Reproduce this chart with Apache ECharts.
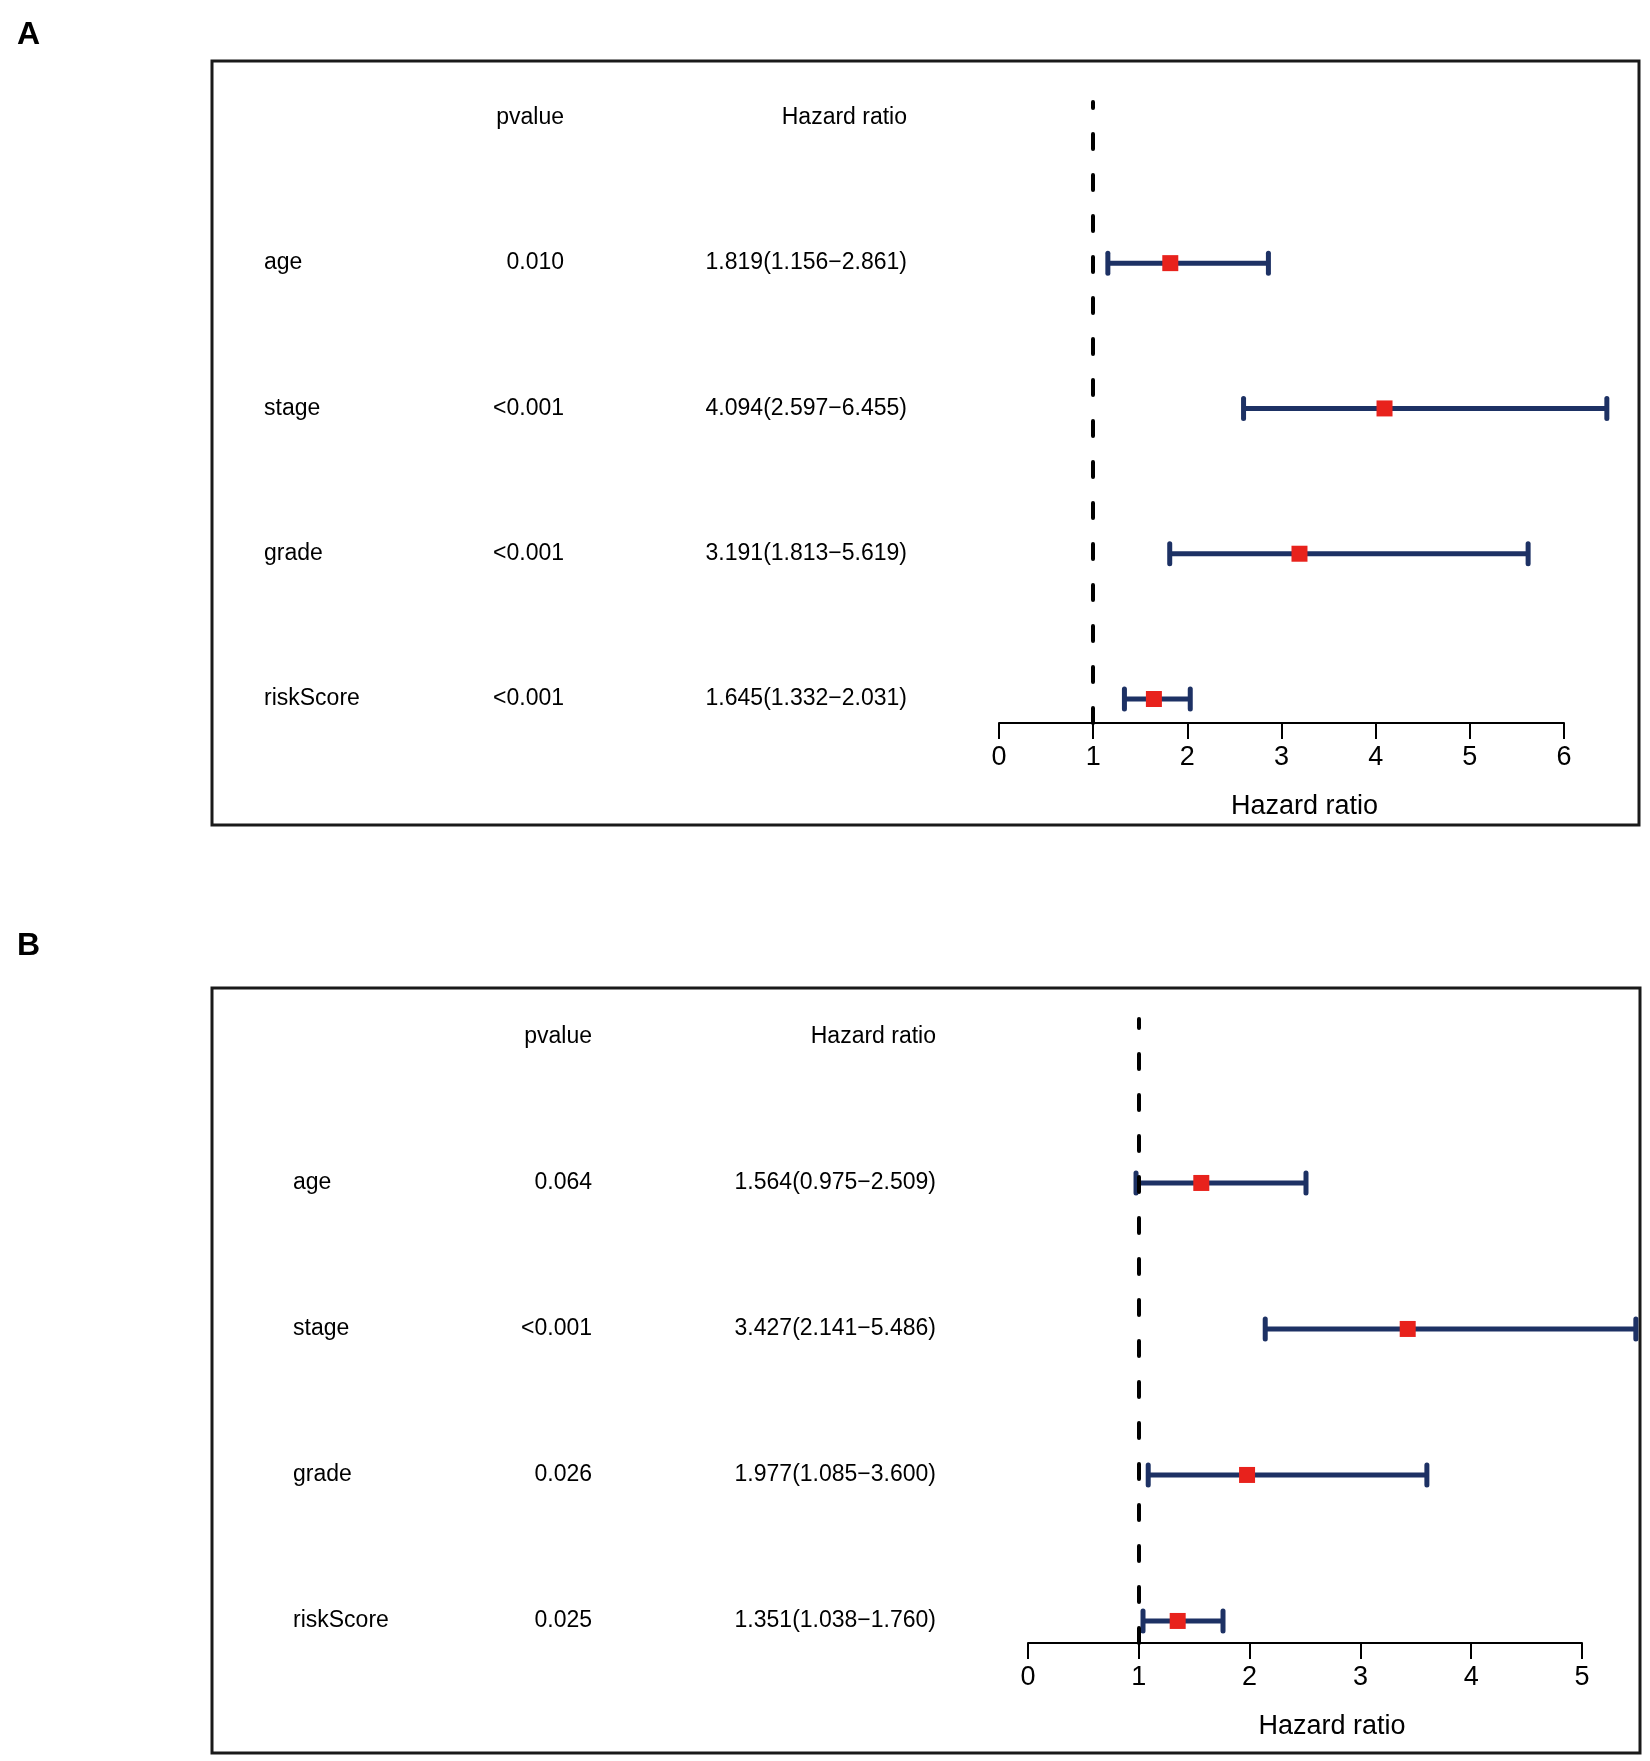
<!DOCTYPE html>
<html>
<head>
<meta charset="utf-8">
<script src="https://cdn.jsdelivr.net/npm/echarts@6/dist/echarts.min.js"></script>
<style>
    html, body { margin: 0; padding: 0; background: #fff; }
    #chart { width: 1650px; height: 1761px; }
</style>
</head>
<body>
<div id="chart"></div>
<script>
// rows, top to bottom
const factors = ['age', 'stage', 'grade', 'riskScore'];

// panel A
const pvalueA = ['0.010', '<0.001', '<0.001', '<0.001'];
const hrA = [1.819, 4.094, 3.191, 1.645];
const lowA = [1.156, 2.597, 1.813, 1.332];
const highA = [2.861, 6.455, 5.619, 2.031];

// panel B
const pvalueB = ['0.064', '<0.001', '0.026', '0.025'];
const hrB = [1.564, 3.427, 1.977, 1.351];
const lowB = [0.975, 2.141, 1.085, 1.038];
const highB = [2.509, 5.486, 3.600, 1.760];

const font = "'Liberation Sans', Arial, sans-serif";
const navy = '#1d3164';
const red = '#e8221c';
const n = factors.length;

let dom = document.getElementById('chart');
let chart = echarts.init(dom);

// y value of a row: top row gets the biggest value, header sits above it
function rowY(i) { return n - 1 - i; }

function columnLabels(values, header) {
    let labels = [];
    values.forEach(function (v, i) { labels[rowY(i)] = v; });
    labels[n] = header;
    return labels;
}

function hrText(hr, low, high) {
    return hr.map(function (h, i) {
        return h.toFixed(3) + '(' + low[i].toFixed(3) + '\u2212' + high[i].toFixed(3) + ')';
    });
}

function textAxis(g, yMin, yMax, offset, align, labels, drop) {
    return {
        type: 'value',
        gridIndex: g,
        min: yMin,
        max: yMax,
        position: 'left',
        offset: offset,
        axisLine: { show: false, onZero: false },
        axisTick: { show: false },
        splitLine: { show: false },
        axisLabel: {
            customValues: [0, 1, 2, 3, 4],
            margin: 0,
            align: align,
            padding: [drop, 0, 0, 0],
            fontSize: 23,
            color: '#000',
            fontFamily: font,
            formatter: function (v) { return labels[Math.round(v)] || ''; }
        }
    };
}

function panel(g, p) {
    let xAxis = {
        type: 'value',
        gridIndex: g,
        min: 0,
        max: p.xMax,
        interval: 1,
        name: 'Hazard ratio',
        nameLocation: 'middle',
        nameGap: 70,
        nameTextStyle: { fontSize: 27, color: '#000', fontFamily: font, padding: [0, 0, 0, p.nameShift] },
        axisLine: { onZero: false, lineStyle: { color: '#000', width: 2 } },
        axisTick: { length: 16, lineStyle: { color: '#000', width: 2 } },
        axisLabel: { fontSize: 27, color: '#000', fontFamily: font, margin: 21 },
        splitLine: { show: false }
    };
    let yAxes = [
        { type: 'value', gridIndex: g, min: p.yMin, max: p.yMax, show: false },
        textAxis(g, p.yMin, p.yMax, p.nameOffset, 'left', columnLabels(factors, ''), 2),
        textAxis(g, p.yMin, p.yMax, p.pOffset, 'right', columnLabels(p.pvalue, 'pvalue'), 6),
        textAxis(g, p.yMin, p.yMax, p.hrOffset, 'right', columnLabels(hrText(p.hr, p.low, p.high), 'Hazard ratio'), 5)
    ];
    let ci = p.hr.map(function (h, i) { return [p.low[i], p.high[i], rowY(i)]; });
    let pts = p.hr.map(function (h, i) { return [h, rowY(i)]; });
    let series = [
        {
            type: 'custom',
            xAxisIndex: g,
            yAxisIndex: g * 4,
            clip: false,
            z: 3,
            encode: { x: [0, 1], y: 2 },
            data: ci,
            renderItem: function (params, api) {
                let y = api.value(2);
                let a = api.coord([api.value(0), y]);
                let b = api.coord([api.value(1), y]);
                let cap = 10;
                let capStyle = { stroke: navy, lineWidth: 5, lineCap: 'round' };
                return {
                    type: 'group',
                    children: [
                        { type: 'line', shape: { x1: a[0], y1: a[1], x2: b[0], y2: b[1] }, style: { stroke: navy, lineWidth: 5 } },
                        { type: 'line', shape: { x1: a[0], y1: a[1] - cap, x2: a[0], y2: a[1] + cap }, style: capStyle },
                        { type: 'line', shape: { x1: b[0], y1: b[1] - cap, x2: b[0], y2: b[1] + cap }, style: capStyle }
                    ]
                };
            }
        },
        {
            type: 'scatter',
            xAxisIndex: g,
            yAxisIndex: g * 4,
            symbol: 'rect',
            symbolSize: 16,
            z: 4,
            itemStyle: { color: red, opacity: 1 },
            data: pts,
            markLine: {
                silent: true,
                symbol: 'none',
                label: { show: false },
                lineStyle: { color: '#000', width: 4, type: [15, 26], cap: 'round' },
                data: [{ xAxis: 1 }]
            }
        }
    ];
    return { grid: p.grid, xAxis: xAxis, yAxis: yAxes, series: series };
}

let pa = panel(0, {
    grid: { left: 999, top: 102, width: 565, height: 621 },
    xMax: 6, yMin: -0.165, yMax: 4.109, nameShift: 46,
    nameOffset: 735, pOffset: 435, hrOffset: 92,
    pvalue: pvalueA, hr: hrA, low: lowA, high: highA
});
let pb = panel(1, {
    grid: { left: 1028, top: 1019, width: 554, height: 624 },
    xMax: 5, yMin: -0.151, yMax: 4.123, nameShift: 54,
    nameOffset: 735, pOffset: 436, hrOffset: 92,
    pvalue: pvalueB, hr: hrB, low: lowB, high: highB
});

let option = {
    animation: false,
    backgroundColor: '#fff',
    title: [
        { text: 'A', left: 17, top: 19, padding: 0, textStyle: { fontSize: 32, fontWeight: 'bold', color: '#000', fontFamily: font } },
        { text: 'B', left: 17, top: 930, padding: 0, textStyle: { fontSize: 32, fontWeight: 'bold', color: '#000', fontFamily: font } }
    ],
    graphic: [
        { type: 'rect', shape: { x: 212, y: 61, width: 1427, height: 764 }, style: { fill: 'none', stroke: '#1a1a1a', lineWidth: 3 } },
        { type: 'rect', shape: { x: 212, y: 988, width: 1428, height: 765 }, style: { fill: 'none', stroke: '#1a1a1a', lineWidth: 3 } }
    ],
    grid: [pa.grid, pb.grid],
    xAxis: [pa.xAxis, pb.xAxis],
    yAxis: pa.yAxis.concat(pb.yAxis),
    series: pa.series.concat(pb.series)
};

chart.setOption(option);
</script>
</body>
</html>
